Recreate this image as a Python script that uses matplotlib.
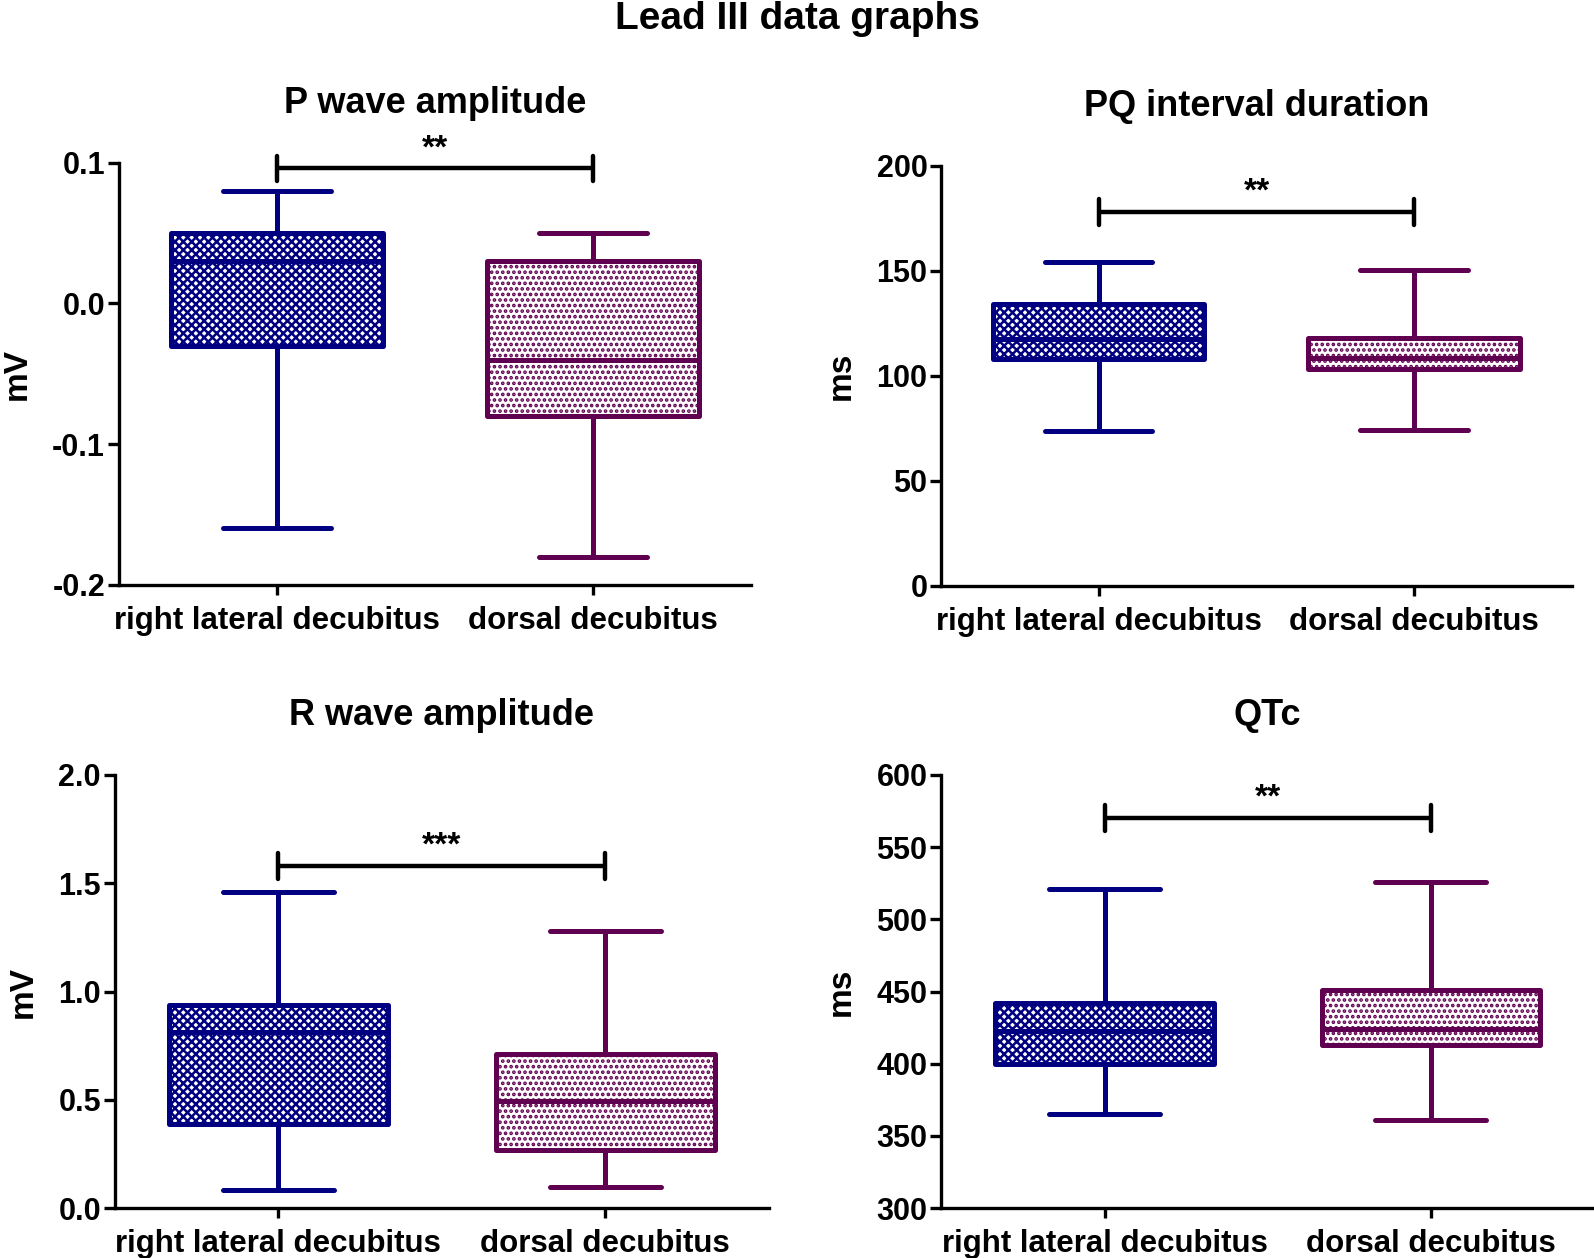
import matplotlib
matplotlib.use("Agg")
import matplotlib.pyplot as plt

plt.rcParams['font.family'] = ['Liberation Sans', 'DejaVu Sans']
plt.rcParams['font.weight'] = 'bold'
plt.rcParams['hatch.linewidth'] = 1.8

categories = ["right lateral decubitus", "dorsal decubitus"]
colors = ["#000080", "#600050"]
hatches = ["xxxx", "..."]

# box stats: whislo, q1, med, q3, whishi
p_wave = {"right lateral decubitus": [-0.16, -0.03, 0.03, 0.05, 0.08],
          "dorsal decubitus": [-0.18, -0.08, -0.04, 0.03, 0.05]}
pq_int = {"right lateral decubitus": [73.5, 108, 117.5, 134, 154],
          "dorsal decubitus": [74, 103, 108.5, 118, 150.5]}
r_wave = {"right lateral decubitus": [0.085, 0.39, 0.815, 0.94, 1.46],
          "dorsal decubitus": [0.10, 0.27, 0.495, 0.71, 1.28]}
qtc = {"right lateral decubitus": [365, 400, 423, 442, 521],
       "dorsal decubitus": [361, 413, 424, 451, 526]}

titles = ["P wave amplitude", "PQ interval duration", "R wave amplitude", "QTc"]
ylabels = ["mV", "ms", "mV", "ms"]
ylims = [(-0.2, 0.1), (0, 200), (0, 2.0), (300, 600)]
yticks = [[-0.2, -0.1, 0.0, 0.1], [0, 50, 100, 150, 200],
          [0.0, 0.5, 1.0, 1.5, 2.0], [300, 350, 400, 450, 500, 550, 600]]
ytickfmt = ["{:.1f}", "{:.0f}", "{:.1f}", "{:.0f}"]
sig_y = [0.096, 178, 1.58, 570]
sig_text = ["**", "**", "***", "**"]
datasets = [p_wave, pq_int, r_wave, qtc]

W, H = 1568, 1237
rects = [(117, 739, 160, 575), (926, 1546, 163, 576),
         (113, 756, 762, 1188), (926, 1568, 762, 1188)]

fig = plt.figure(figsize=(15.94, 12.58), dpi=100)
fig.text(0.5, 0.985, "Lead III data graphs", ha="center", va="center",
         fontsize=28, fontweight="bold")

lw = 3.6
for i in range(4):
    l, r, t, b = rects[i]
    ax = fig.add_axes([l / W, 1 - b / H, (r - l) / W, (b - t) / H])
    data = datasets[i]
    stats = []
    for c in categories:
        lo, q1, med, q3, hi = data[c]
        stats.append(dict(whislo=lo, q1=q1, med=med, q3=q3, whishi=hi, fliers=[], label=c))
    for j, s in enumerate(stats):
        col = colors[j]
        bp = ax.bxp([s], positions=[j], widths=0.67, capwidths=0.34,
                    patch_artist=True, showfliers=False,
                    boxprops=dict(facecolor="white", edgecolor=col, linewidth=lw, hatch=hatches[j]),
                    medianprops=dict(color=col, linewidth=lw),
                    whiskerprops=dict(color=col, linewidth=lw, solid_capstyle="round"),
                    capprops=dict(color=col, linewidth=lw, solid_capstyle="round"),
                    manage_ticks=False)
        for bx in bp["boxes"]:
            bx.set_joinstyle("round")
    # significance bar
    y0, y1 = ylims[i]
    span = y1 - y0
    ax.plot([0, 1], [sig_y[i], sig_y[i]], color="black", lw=3.2, solid_capstyle="butt", clip_on=False)
    for xx in [0, 1]:
        ax.plot([xx, xx], [sig_y[i] - 0.03 * span, sig_y[i] + 0.03 * span], color="black",
                lw=3.2, solid_capstyle="round", clip_on=False)
    ax.text(0.5, sig_y[i] + 0.01 * span, sig_text[i], ha="center", va="bottom",
            fontsize=24, fontweight="bold")

    ax.set_xlim(-0.5, 1.5)
    ax.set_ylim(*ylims[i])
    ax.set_yticks(yticks[i])
    ax.set_yticklabels([ytickfmt[i].format(v) for v in yticks[i]], fontsize=22, fontweight="bold")
    ax.set_xticks([0, 1])
    ax.set_xticklabels(categories, fontsize=22.5, fontweight="bold")
    ax.set_ylabel(ylabels[i], fontsize=24, fontweight="bold", labelpad=14)
    ax.set_title(titles[i], fontsize=26, fontweight="bold", pad=36)
    for sp in ["top", "right"]:
        ax.spines[sp].set_visible(False)
    for sp in ["left", "bottom"]:
        ax.spines[sp].set_linewidth(2.4)
    ax.tick_params(axis="y", length=8, width=2.4, pad=2)
    ax.tick_params(axis="x", length=7, width=2.4, pad=8)

fig.savefig("out.png", dpi=100)
